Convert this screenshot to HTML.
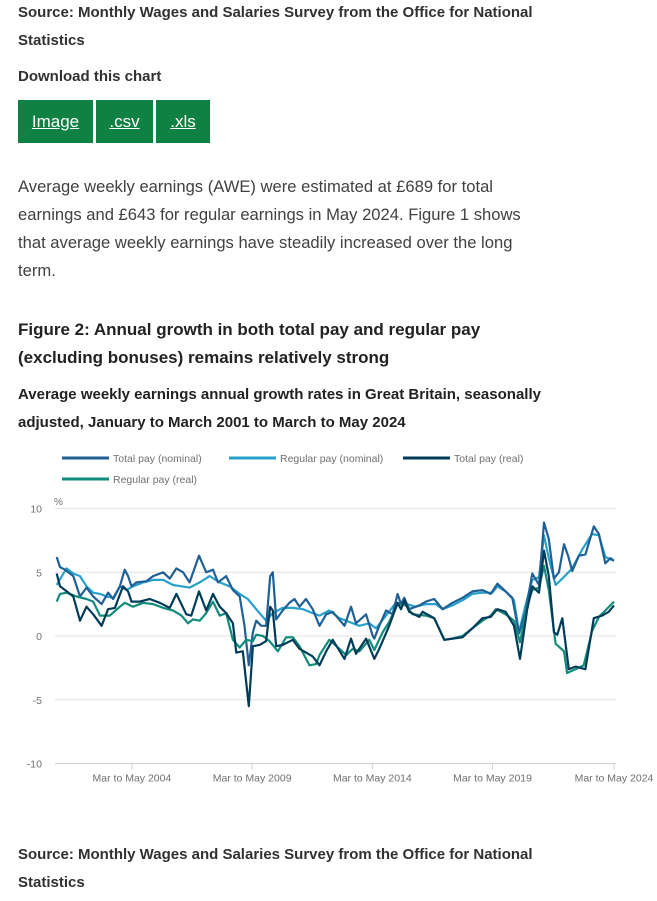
<!DOCTYPE html>
<html><head><meta charset="utf-8"><style>
body{margin:0;width:657px;height:901px;background:#fff;position:relative;overflow:hidden;font-family:"Liberation Sans",sans-serif;color:#222}
.t{position:absolute;left:18px;white-space:nowrap}
.b{font-weight:bold;font-size:15px;color:#323132}
.btn{position:absolute;top:100px;height:43px;background:#0f8243;color:#fff;font-size:17px;text-decoration:underline;display:flex;align-items:center;justify-content:center}
.p{font-size:16.6px;color:#414042}
</style></head><body>
<div class="t b" style="top:4px">Source: Monthly Wages and Salaries Survey from the Office for National</div>
<div class="t b" style="top:32px">Statistics</div>
<div class="t b" style="top:68px">Download this chart</div>
<div class="btn" style="left:18px;width:75px">Image</div>
<div class="btn" style="left:96px;width:57px">.csv</div>
<div class="btn" style="left:156px;width:54px">.xls</div>
<div class="t p" style="top:173px;line-height:28px">Average weekly earnings (AWE) were estimated at £689 for total<br>earnings and £643 for regular earnings in May 2024. Figure 1 shows<br>that average weekly earnings have steadily increased over the long<br>term.</div>
<div class="t" style="top:316px;font-size:17px;font-weight:bold;line-height:28px;color:#222">Figure 2: Annual growth in both total pay and regular pay<br>(excluding bonuses) remains relatively strong</div>
<div class="t b" style="top:381px;line-height:28px;color:#222">Average weekly earnings annual growth rates in Great Britain, seasonally<br>adjusted, January to March 2001 to March to May 2024</div>
<svg id="chart" style="position:absolute;left:0;top:440px" width="657" height="360"></svg>
<div class="t b" style="top:846px">Source: Monthly Wages and Salaries Survey from the Office for National</div>
<div class="t b" style="top:874px">Statistics</div>
<script>
const yTicks=[10,5,0,-5,-10];
const xTickYears=[2004.3,2009.3,2014.3,2019.3,2024.35];
const xTickLabels=["Mar to May 2004","Mar to May 2009","Mar to May 2014","Mar to May 2019","Mar to May 2024"];
const seriesNames=["Total pay (nominal)","Regular pay (nominal)","Total pay (real)","Regular pay (real)"];
const totalNomDates=[2001.17,2001.31,2001.52,2001.86,2002.14,2002.41,2002.69,2003.04,2003.31,2003.52,2003.80,2004.00,2004.14,2004.28,2004.49,2004.90,2005.18,2005.60,2005.87,2006.15,2006.43,2006.70,2007.09,2007.39,2007.67,2007.88,2008.22,2008.50,2008.78,2008.98,2009.16,2009.33,2009.47,2009.68,2009.88,2010.05,2010.16,2010.30,2010.57,2010.85,2011.06,2011.27,2011.54,2011.82,2012.10,2012.38,2012.65,2013.14,2013.41,2013.62,2014.04,2014.31,2014.38,2014.59,2014.87,2015.14,2015.35,2015.49,2015.63,2015.83,2016.25,2016.53,2016.87,2017.22,2017.63,2018.05,2018.46,2018.88,2019.22,2019.50,2019.84,2020.12,2020.40,2020.67,2020.95,2021.23,2021.44,2021.64,2021.85,2022.06,2022.27,2022.44,2022.61,2022.89,2023.16,2023.51,2023.72,2023.99,2024.20,2024.35];
const totalNomValues=[6.2,5.4,5.2,4.7,3.1,3.8,3.1,2.5,3.4,2.9,3.9,5.2,4.7,3.9,4.2,4.3,4.7,5.0,4.5,5.3,5.0,4.2,6.3,5.0,5.2,4.2,4.7,3.6,3.1,0.8,-2.3,0.3,1.2,0.8,0.8,4.7,5.0,1.3,2.0,2.6,2.9,2.3,2.9,2.1,0.8,1.7,1.9,0.8,2.3,1.0,1.7,0.05,-0.2,0.8,2.0,1.7,3.3,2.5,3.0,2.1,2.4,2.7,2.9,2.1,2.6,3.0,3.5,3.6,3.3,4.1,3.5,3.0,0.2,1.9,4.9,4.0,8.9,7.6,4.5,5.0,7.2,6.3,5.1,6.3,6.4,8.6,8.0,5.7,6.1,5.9];
const regNomDates=[2001.17,2001.45,2001.58,2001.86,2002.14,2002.41,2002.69,2002.97,2003.24,2003.52,2003.80,2004.07,2004.35,2004.77,2005.18,2005.60,2006.01,2006.36,2006.70,2007.12,2007.53,2007.95,2008.36,2008.78,2009.12,2009.47,2009.88,2010.16,2010.57,2010.99,2011.41,2011.82,2012.10,2012.51,2012.93,2013.35,2013.76,2014.17,2014.45,2014.87,2015.28,2015.70,2016.11,2016.53,2016.94,2017.22,2017.63,2018.05,2018.46,2018.88,2019.29,2019.50,2019.84,2020.19,2020.40,2020.67,2020.95,2021.23,2021.44,2021.64,2021.92,2022.20,2022.61,2023.03,2023.44,2023.72,2023.99,2024.35];
const regNomValues=[4.0,4.9,5.3,4.9,4.7,3.9,3.4,3.3,3.1,3.0,3.9,3.6,3.9,4.2,4.4,4.4,4.0,3.9,3.8,4.2,4.7,4.2,3.9,3.3,2.9,2.1,1.2,1.8,2.2,2.2,2.1,1.8,1.6,2.0,1.4,1.1,0.8,1.0,0.6,1.6,2.6,2.5,2.3,2.5,2.5,2.1,2.4,2.8,3.3,3.4,3.4,3.9,3.5,2.8,0.3,2.4,4.4,4.6,7.9,6.1,4.0,4.5,5.3,6.8,8.0,7.9,6.2,5.9];
const totalRealDates=[2001.17,2001.31,2001.52,2001.86,2002.14,2002.41,2002.69,2003.04,2003.31,2003.59,2003.93,2004.14,2004.28,2004.63,2005.04,2005.46,2005.87,2006.15,2006.56,2006.77,2007.09,2007.39,2007.67,2007.95,2008.22,2008.50,2008.64,2008.91,2009.16,2009.33,2009.61,2009.88,2010.05,2010.16,2010.30,2010.57,2010.99,2011.27,2011.54,2011.82,2012.10,2012.38,2012.65,2013.14,2013.41,2013.62,2014.04,2014.38,2014.59,2015.00,2015.35,2015.49,2015.63,2015.83,2016.25,2016.39,2016.87,2017.29,2017.63,2018.05,2018.46,2018.88,2019.22,2019.50,2019.84,2020.19,2020.44,2020.74,2020.95,2021.23,2021.44,2021.64,2021.85,2021.99,2022.20,2022.47,2022.75,2023.16,2023.51,2023.86,2024.13,2024.35];
const totalRealValues=[4.9,3.9,3.6,3.1,1.2,2.3,1.7,0.8,2.1,2.2,3.9,3.5,2.7,2.7,2.9,2.6,2.2,3.3,1.7,1.6,3.5,2.0,3.3,2.3,1.8,1.0,-1.3,-1.2,-5.5,-0.8,-0.7,-0.4,2.3,2.0,-0.8,-0.7,-0.3,-1.0,-1.3,-1.6,-2.3,-1.2,-0.3,-1.8,-0.2,-1.4,-0.2,-1.8,-1.0,0.8,2.6,2.1,2.8,1.9,1.5,1.9,1.4,-0.3,-0.2,-0.1,0.6,1.4,1.5,2.1,1.9,0.8,-1.8,2.1,3.9,3.4,6.7,4.7,0.3,0.1,1.4,-2.6,-2.4,-2.6,1.4,1.6,1.9,2.4];
const regRealDates=[2001.17,2001.31,2001.58,2002.00,2002.41,2002.69,2002.97,2003.38,2003.80,2004.00,2004.35,2004.77,2005.18,2005.60,2006.01,2006.36,2006.63,2006.84,2007.12,2007.39,2007.67,2007.95,2008.22,2008.50,2008.78,2009.05,2009.33,2009.47,2009.75,2010.02,2010.37,2010.71,2010.99,2011.27,2011.68,2011.96,2012.10,2012.51,2012.93,2013.21,2013.48,2013.76,2014.17,2014.38,2014.73,2015.00,2015.35,2015.70,2015.97,2016.53,2016.87,2017.29,2017.63,2018.05,2018.46,2018.88,2019.22,2019.43,2019.84,2020.19,2020.44,2020.74,2020.95,2021.23,2021.44,2021.64,2021.92,2022.27,2022.40,2022.75,2023.09,2023.44,2023.72,2023.99,2024.35];
const regRealValues=[2.7,3.3,3.4,3.1,2.9,2.7,1.6,1.6,2.3,2.6,2.3,2.6,2.5,2.2,2.0,1.6,1.0,1.3,1.2,1.8,2.7,1.6,1.8,-0.3,-0.9,-0.3,-0.4,0.1,0.0,-0.4,-1.2,-0.1,-0.1,-0.8,-2.3,-2.2,-1.5,-0.3,-1.0,-1.5,-1.0,-1.2,-0.3,-1.1,0.3,1.1,2.5,2.4,1.7,1.6,1.4,-0.3,-0.2,0.0,0.6,1.2,1.6,2.1,1.7,1.2,-0.5,2.4,3.6,3.8,5.5,3.6,-0.6,-1.2,-2.9,-2.6,-2.3,0.4,1.5,2.0,2.7];
const colors=["#206095","#27a0cc","#003c57","#118c7b"];
const NS="http://www.w3.org/2000/svg";
const svg=document.getElementById('chart');
const X0=2001.1,X1=2024.35,PX0=55,PX1=614,TOP=440;
function xs(v){return PX0+(v-X0)/(X1-X0)*(PX1-PX0);}
function ys(v){return 636-TOP-v*12.75;}
function mk(tag,attrs){const e=document.createElementNS(NS,tag);for(const k in attrs)e.setAttribute(k,attrs[k]);svg.appendChild(e);return e;}
yTicks.forEach(t=>{
 const l=mk('line',{x1:55,x2:616,y1:ys(t),y2:ys(t),stroke:t===-10?'#cfd2d6':'#e6e6e6','stroke-width':1.3});
 
 
 const tx=mk('text',{x:42,y:ys(t)+4,'text-anchor':'end','font-size':10.5,fill:'#707071','font-family':'Liberation Sans'});
 tx.textContent=t;
 
 
});
const pct=mk('text',{x:54,y:65,'font-size':10,fill:'#707071','font-family':'Liberation Sans'});pct.textContent='%';


xTickYears.forEach((yr,i)=>{
 const l=mk('line',{x1:xs(yr),x2:xs(yr),y1:ys(-10),y2:ys(-10)+6,stroke:'#cfd2d6'});
 
 
 const tx=mk('text',{x:xs(yr),y:ys(-10)+18,'text-anchor':'middle','font-size':10.5,fill:'#707071','font-family':'Liberation Sans'});
 tx.textContent=xTickLabels[i];
 
 
});
const all=[[totalNomDates,totalNomValues],[regNomDates,regNomValues],[totalRealDates,totalRealValues],[regRealDates,regRealValues]];
const order=[1,0,3,2];
order.forEach(i=>{
 const [d,v]=all[i];
 const pts=d.map((x,j)=>xs(x).toFixed(1)+','+ys(v[j]).toFixed(1)).join(' ');
 const p=mk('polyline',{points:pts,fill:'none',stroke:colors[i],'stroke-width':2.2,'stroke-linejoin':'round'});
 
 
});
const legPos=[[62,18],[229,18],[403,18],[62,39]];
seriesNames.forEach((n,i)=>{
 const [lx,ly]=legPos[i];
 const l=mk('line',{x1:lx,x2:lx+47,y1:ly,y2:ly,stroke:colors[i],'stroke-width':3});
 
 
 const tx=mk('text',{x:lx+51,y:ly+4,'font-size':10.5,fill:'#707071','font-family':'Liberation Sans'});
 tx.textContent=n;
 
 
});
</script>
</body></html>
